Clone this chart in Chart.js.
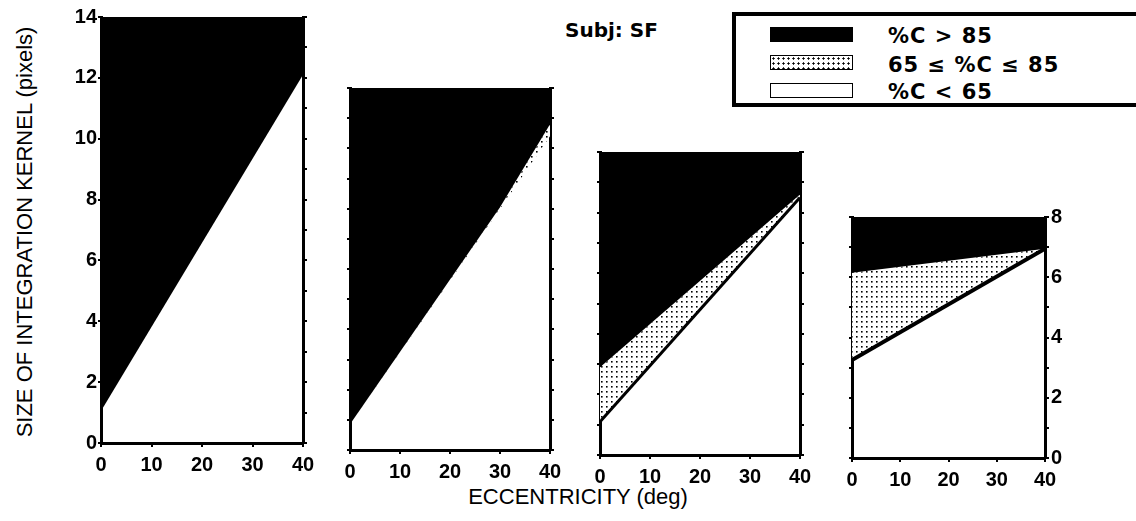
<!DOCTYPE html>
<html lang="en">
<head>
    <meta charset="UTF-8">
    <title>Size of integration kernel vs eccentricity</title>
    <style>
        body {
            margin: 0;
            width: 1136px;
            height: 521px;
            overflow: hidden;
            background: #fff;
            font-family: "Liberation Sans", Arial, sans-serif;
            color: #000;
            position: relative;
        }
        canvas {
            position: absolute;
            left: 0;
            top: 0;
        }
        .ytitle {
            position: absolute;
            left: 25px;
            top: 232px;
            transform: translate(-50%, -50%) rotate(-90deg);
            font-size: 22px;
            white-space: nowrap;
        }
        .xtitle {
            position: absolute;
            left: 578px;
            top: 497px;
            transform: translate(-50%, -50%);
            font-size: 22px;
            white-space: nowrap;
        }
        .subj {
            position: absolute;
            left: 565px;
            top: 18px;
            font-family: "DejaVu Sans", sans-serif;
            font-size: 20px;
            line-height: 24px;
            font-weight: bold;
            white-space: nowrap;
        }
        .legend {
            position: absolute;
            left: 732px;
            top: 12px;
            width: 420px;
            height: 87px;
            border: 4px solid #000;
        }
        .legend .sw {
            position: absolute;
            left: 34px;
            width: 83px;
            height: 15px;
            box-sizing: border-box;
        }
        .legend .lbl {
            position: absolute;
            left: 152px;
            font-family: "DejaVu Sans", sans-serif;
            font-size: 21px;
            font-weight: bold;
            letter-spacing: 1px;
            line-height: 24px;
            white-space: nowrap;
        }
    </style>
    <script src="https://cdn.jsdelivr.net/npm/chart.js"></script>
</head>
<body>
    <div class="ytitle">SIZE OF INTEGRATION KERNEL (pixels)</div>
    <div class="xtitle">ECCENTRICITY (deg)</div>
    <div class="subj">Subj: SF</div>
    <div class="legend">
        <div class="sw" style="top:11px;background:#000;"></div>
        <div class="lbl" style="top:8px;">%C &gt; 85</div>
        <div class="sw" style="top:39px;border:1px solid #000;background-color:#fff;background-image:radial-gradient(#000 0.9px, transparent 1.3px);background-size:5px 5px;"></div>
        <div class="lbl" style="top:37px;">65 ≤ %C ≤ 85</div>
        <div class="sw" style="top:67px;border:1.5px solid #000;background:#fff;"></div>
        <div class="lbl" style="top:64px;">%C &lt; 65</div>
    </div>

    <canvas id="p1" width="1136" height="521"></canvas>
    <canvas id="p2" width="1136" height="521"></canvas>
    <canvas id="p3" width="1136" height="521"></canvas>
    <canvas id="p4" width="1136" height="521"></canvas>

    <script>
        // eccentricity ticks shared by all panels
        const xTicks = [0, 10, 20, 30, 40];

        // panel 1 (0-14): boundary of black (%C > 85) region and white (%C < 65) region
        const p1Ecc = [0, 40];
        const p1Upper = [1.05, 12.1];
        const p1Lower = [1.05, 12.1];

        // panel 2 (0-12)
        const p2Ecc = [0, 30, 40];
        const p2Upper = [0.85, 8.05, 10.8];
        const p2Lower = [0.85, 8.0, 10.4];

        // panel 3 (0-10)
        const p3Ecc = [0, 40];
        const p3Upper = [2.9, 8.6];
        const p3Lower = [1.1, 8.5];

        // panel 4 (0-8)
        const p4Ecc = [0, 40];
        const p4Upper = [6.15, 6.95];
        const p4Lower = [3.25, 6.95];

        Chart.defaults.font.family = '"Liberation Sans", Arial, sans-serif';
        Chart.defaults.color = '#000';

        // dotted fill for 65 <= %C <= 85
        const tile = document.createElement('canvas');
        tile.width = 5;
        tile.height = 5;
        const tctx = tile.getContext('2d');
        tctx.fillStyle = '#fff';
        tctx.fillRect(0, 0, 5, 5);
        tctx.fillStyle = '#000';
        tctx.fillRect(1, 1, 1.6, 1.6);
        const dots = tctx.createPattern(tile, 'repeat');

        function toPoints(xs, ys) {
            return xs.map((x, i) => ({ x: x, y: ys[i] }));
        }

        function makePanel(id, ecc, upper, lower, cfg) {
            const AXW = 40, AXH = 40;
            new Chart(document.getElementById(id), {
                type: 'line',
                data: {
                    datasets: [
                        {
                            label: '%C > 85',
                            data: toPoints(ecc, upper),
                            fill: 'end',
                            backgroundColor: '#000',
                            borderColor: '#000',
                            borderWidth: 0,
                            pointRadius: 0
                        },
                        {
                            label: '65 ≤ %C ≤ 85',
                            data: toPoints(ecc, lower),
                            fill: '-1',
                            backgroundColor: dots,
                            borderColor: '#000',
                            borderWidth: cfg.edge,
                            pointRadius: 0
                        }
                    ]
                },
                options: {
                    responsive: false,
                    animation: false,
                    events: [],
                    layout: {
                        padding: {
                            left: cfg.L - AXW,
                            right: 1136 - cfg.R - AXW,
                            top: cfg.T,
                            bottom: 521 - cfg.B - AXH
                        }
                    },
                    plugins: {
                        legend: { display: false },
                        tooltip: { enabled: false }
                    },
                    scales: {
                        x: {
                            type: 'linear',
                            min: 0,
                            max: 40,
                            afterBuildTicks: s => { s.ticks = xTicks.map(v => ({ value: v })); },
                            ticks: {
                                font: { size: 20, weight: 'bold' },
                                padding: 6,
                                maxRotation: 0
                            },
                            grid: { drawOnChartArea: false, tickLength: 4, color: '#000', lineWidth: 2 },
                            border: { width: 3, color: '#000' },
                            afterFit: s => { s.height = AXH; }
                        },
                        y: {
                            type: 'linear',
                            position: 'left',
                            min: 0,
                            max: cfg.yMax,
                            ticks: {
                                stepSize: cfg.leftLabels ? 2 : 1,
                                font: { size: 20, weight: 'bold' },
                                padding: 1,
                                callback: v => cfg.leftLabels ? v : ''
                            },
                            grid: { drawOnChartArea: false, tickLength: 3, color: '#000', lineWidth: 2 },
                            border: { width: 3, color: '#000' },
                            afterFit: s => { s.width = AXW; }
                        },
                        y2: {
                            type: 'linear',
                            position: 'right',
                            min: 0,
                            max: cfg.yMax,
                            ticks: {
                                stepSize: 1,
                                font: { size: 20, weight: 'bold' },
                                padding: 2,
                                callback: v => (cfg.rightLabels && v % 2 === 0) ? v : ''
                            },
                            grid: { drawOnChartArea: false, tickLength: 4, color: '#000', lineWidth: 2 },
                            border: { width: 3, color: '#000' },
                            afterFit: s => { s.width = AXW; }
                        }
                    }
                }
            });
        }

        makePanel('p1', p1Ecc, p1Upper, p1Lower, { L: 101, R: 303, T: 17, B: 443, yMax: 14, edge: 0, leftLabels: true, rightLabels: false });
        makePanel('p2', p2Ecc, p2Upper, p2Lower, { L: 350, R: 550, T: 88, B: 450, yMax: 12, edge: 0, leftLabels: false, rightLabels: false });
        makePanel('p3', p3Ecc, p3Upper, p3Lower, { L: 600, R: 800, T: 152, B: 455, yMax: 10, edge: 3, leftLabels: false, rightLabels: false });
        makePanel('p4', p4Ecc, p4Upper, p4Lower, { L: 852, R: 1045, T: 217, B: 458, yMax: 8, edge: 4, leftLabels: false, rightLabels: true });
    </script>
</body>
</html>
